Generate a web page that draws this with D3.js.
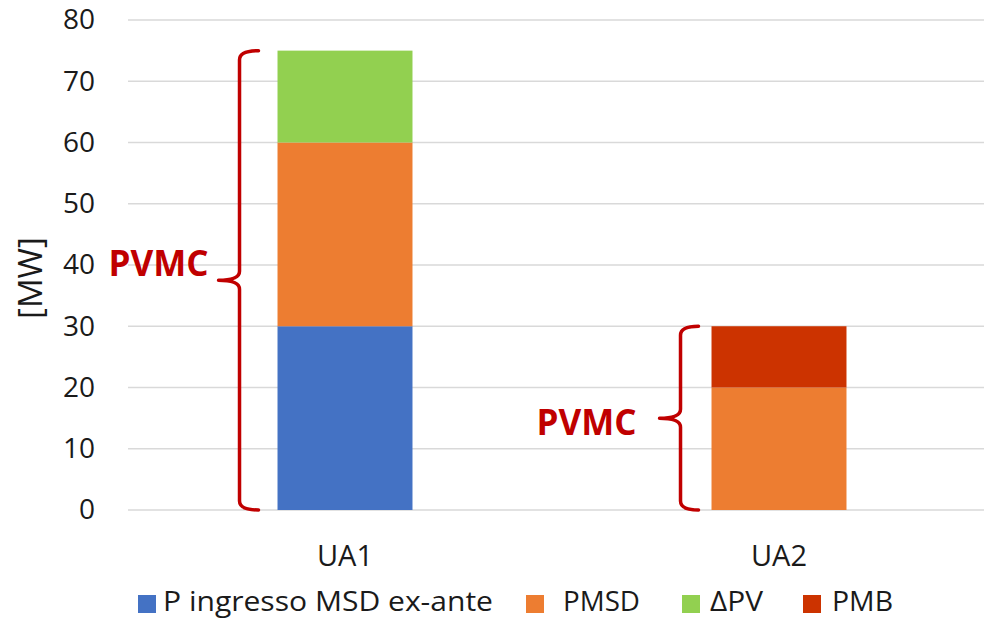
<!DOCTYPE html>
<html>
<head>
<meta charset="utf-8">
<script src="https://cdn.jsdelivr.net/npm/d3@7"></script>
<style>
  html, body { margin: 0; padding: 0; background: #fff; }
  svg { display: block; font-family: "Open Sans", "DejaVu Sans", sans-serif; }
</style>
</head>
<body>
<svg id="chart" width="984" height="620"></svg>
<script>
// Categories and stacked series (MW)
const categories = ["UA1", "UA2"];
const seriesNames = ["P ingresso MSD ex-ante", "PMSD", "\u0394PV", "PMB"];
const pIngresso = [30, 0];
const pmsd = [30, 20];
const deltaPV = [15, 0];
const pmb = [0, 10];
const yTicks = [0, 10, 20, 30, 40, 50, 60, 70, 80];
const braceLabel = "PVMC";
const colors = ["#4472C4", "#ED7D31", "#92D050", "#CC3300"];

const rows = categories.map((c, i) => ({
  cat: c,
  [seriesNames[0]]: pIngresso[i],
  [seriesNames[1]]: pmsd[i],
  [seriesNames[2]]: deltaPV[i],
  [seriesNames[3]]: pmb[i]
}));

const svg = d3.select("#chart");
const W = 984, H = 620;
const plot = { left: 128, right: 996, top: 20, bottom: 510 };

const x = d3.scaleBand()
  .domain(categories)
  .range([plot.left, plot.right])
  .paddingInner(0.689)
  .paddingOuter(0.3445);

const y = d3.scaleLinear().domain([0, 80]).range([plot.bottom, plot.top]);

// Horizontal gridlines
svg.append("g")
  .selectAll("line")
  .data(yTicks)
  .join("line")
  .attr("x1", plot.left).attr("x2", W)
  .attr("y1", d => y(d)).attr("y2", d => y(d))
  .attr("stroke", "#D9D9D9")
  .attr("stroke-width", 1.5);

// Y axis tick labels
const yAxis = d3.axisLeft(y).tickValues(yTicks).tickSize(0).tickPadding(0);
const yg = svg.append("g").attr("transform", "translate(95,0)").call(yAxis);
yg.select(".domain").remove();
yg.selectAll("text")
  .attr("font-size", 28)
  .attr("fill", "#1a1a1a")
  .attr("font-family", "'Open Sans', sans-serif");

// Y axis title
svg.append("text")
  .attr("transform", "translate(29,278) rotate(-90)")
  .attr("text-anchor", "middle")
  .attr("dominant-baseline", "central")
  .attr("font-size", 33)
  .attr("fill", "#1a1a1a")
  .text("[MW]");

// Stacked bars
const stack = d3.stack().keys(seriesNames);
const layers = stack(rows);

svg.append("g")
  .selectAll("g")
  .data(layers)
  .join("g")
  .attr("fill", (d, i) => colors[i])
  .selectAll("rect")
  .data(d => d.map(v => ({ v, cat: v.data.cat })))
  .join("rect")
  .attr("x", d => x(d.cat))
  .attr("width", x.bandwidth())
  .attr("y", d => y(d.v[1]))
  .attr("height", d => y(d.v[0]) - y(d.v[1]));

// Category labels
const xAxis = d3.axisBottom(x).tickSize(0).tickPadding(0);
const xg = svg.append("g").attr("transform", "translate(0,556)").call(xAxis);
xg.select(".domain").remove();
xg.selectAll("text")
  .attr("font-size", 29)
  .attr("fill", "#1a1a1a")
  .attr("dy", "0.35em")
  .attr("font-family", "'Open Sans', sans-serif");

// Curly braces spanning each stack, with the PVMC label beside the cusp
const totals = rows.map(r => d3.sum(seriesNames, k => r[k]));
const braceCfg = [
  { spineGap: 38, hook: 19, tip: 21, labelGap: 10, labelDy: -4 },
  { spineGap: 31, hook: 18, tip: 21, labelGap: 23, labelDy: 17 }
];

function bracePath(xs, xe, x0, yt, yb, r) {
  const ym = (yt + yb) / 2;
  return `M${xe},${yt} Q${xs},${yt} ${xs},${yt + r}` +
    ` L${xs},${ym - r} Q${xs},${ym} ${x0},${ym}` +
    ` Q${xs},${ym} ${xs},${ym + r}` +
    ` L${xs},${yb - r} Q${xs},${yb} ${xe},${yb}`;
}

categories.forEach((c, i) => {
  const cfg = braceCfg[i];
  const xs = x(c) - cfg.spineGap;
  const xe = xs + cfg.hook;
  const x0 = xs - cfg.tip;
  const yt = y(totals[i]);
  const yb = y(0);
  svg.append("path")
    .attr("d", bracePath(xs, xe, x0, yt, yb, 9))
    .attr("fill", "none")
    .attr("stroke", "#C00000")
    .attr("stroke-width", 3.5)
    .attr("stroke-linecap", "round")
    .attr("stroke-linejoin", "round");
  svg.append("text")
    .attr("x", x0 - cfg.labelGap)
    .attr("y", (yt + yb) / 2 + cfg.labelDy)
    .attr("text-anchor", "end")
    .attr("font-size", 35)
    .attr("font-weight", "bold")
    .attr("fill", "#C00000")
    .text(braceLabel);
});

// Legend
const legendSwatchX = [138, 526, 682, 803];
const legendTextX = [163, 563, 710, 832];
const legendTextW = [330, 77, 53, 61];
const legend = svg.append("g");
seriesNames.forEach((name, i) => {
  legend.append("rect")
    .attr("x", legendSwatchX[i]).attr("y", 595)
    .attr("width", 18).attr("height", 18)
    .attr("fill", colors[i]);
  legend.append("text")
    .attr("x", legendTextX[i])
    .attr("y", 602)
    .attr("dy", "0.35em")
    .attr("font-size", 27)
    .attr("textLength", legendTextW[i])
    .attr("lengthAdjust", "spacingAndGlyphs")
    .attr("fill", "#1a1a1a")
    .text(name);
});
</script>
</body>
</html>
